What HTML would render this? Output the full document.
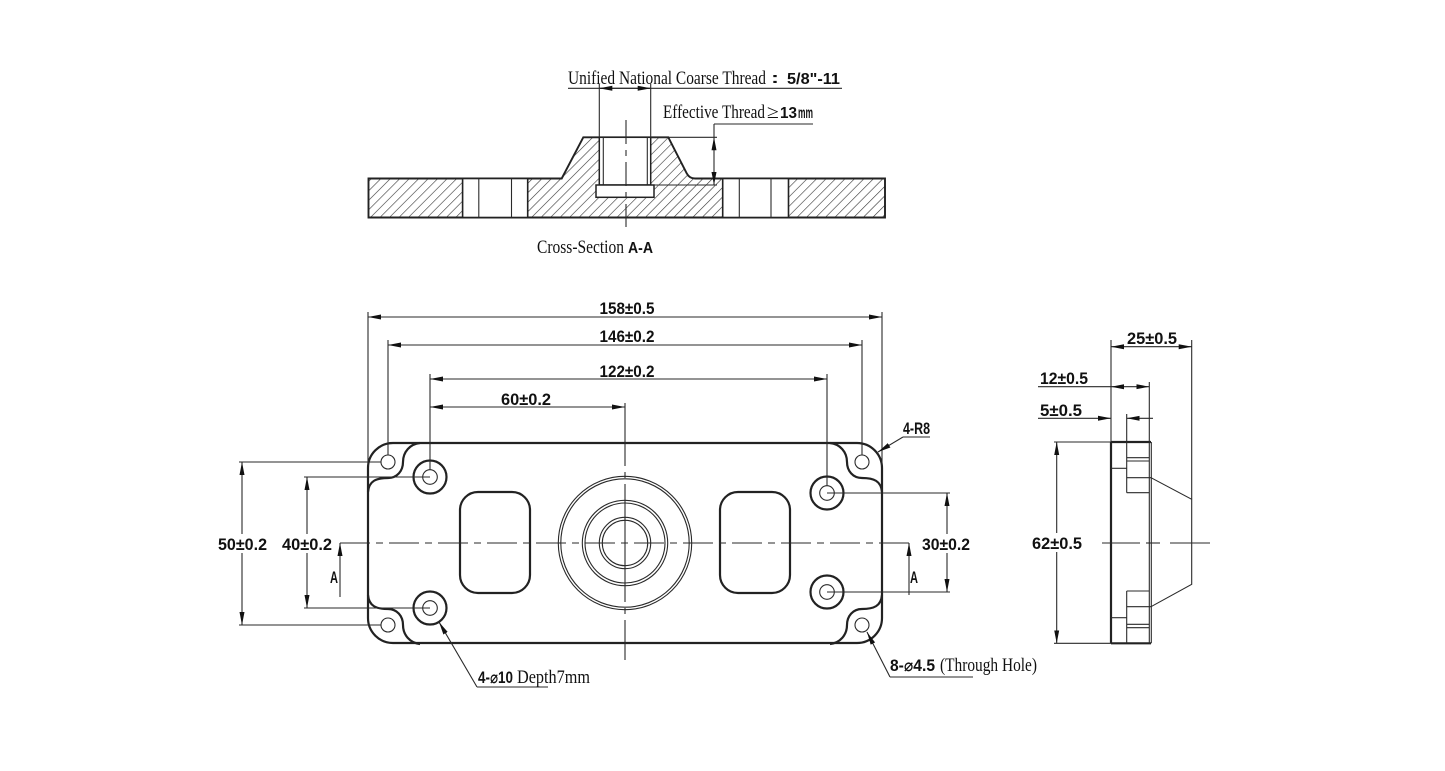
<!DOCTYPE html>
<html><head><meta charset="utf-8"><style>
html,body{margin:0;padding:0;background:#fff;}
svg{display:block;}
.t{stroke:#2a2a2a;stroke-width:1.1;fill:none;}
.o{stroke:#222;stroke-width:2.2;fill:none;}
.d{font-family:"Liberation Sans","DejaVu Sans",sans-serif;font-weight:bold;font-size:17px;fill:#111;}
.s{font-family:"Liberation Serif","DejaVu Serif",serif;font-size:19px;fill:#111;}
.sb{font-family:"Liberation Sans","DejaVu Sans",sans-serif;font-weight:bold;font-size:16px;fill:#111;}
</style></head><body>
<svg width="1445" height="771" viewBox="0 0 1445 771" xmlns="http://www.w3.org/2000/svg">
<defs>
<marker id="ar" viewBox="0 0 13 6" refX="13" refY="3" markerWidth="13" markerHeight="6" markerUnits="userSpaceOnUse" orient="auto-start-reverse"><path d="M0,0.5 L13,3 L0,5.5 z" fill="#111"/></marker>
<pattern id="h" width="6.7" height="6.7" patternUnits="userSpaceOnUse" patternTransform="rotate(45)"><line x1="0" y1="0" x2="0" y2="6.7" stroke="#333" stroke-width="1.2"/></pattern>
<g id="cr">
<path d="M420,443 C410,444 403,452 403,462 C403,471 397,478 388,478 C376,478 369,481 368,492" class="o" stroke-width="2"/>
<circle cx="388" cy="462" r="7" class="t" stroke-width="1.4"/>
</g>
</defs>
<rect width="1445" height="771" fill="#fff"/>

<!-- ===== Cross-section A-A ===== -->
<path d="M368.5,178.5 L561.7,178.5 L583.3,137.3 L668.3,137.3 L686.7,173.3 Q689.5,178.5 695,178.5 L885,178.5 L885,217.5 L368.5,217.5 Z" fill="url(#h)" stroke="#222" stroke-width="1.9"/>
<rect x="462.6" y="178.5" width="65.1" height="39" fill="#fff" stroke="#222" stroke-width="1.6"/>
<line x1="478.8" y1="178.5" x2="478.8" y2="217.5" class="t"/>
<line x1="511.5" y1="178.5" x2="511.5" y2="217.5" class="t"/>
<rect x="722.7" y="178.5" width="65.8" height="39" fill="#fff" stroke="#222" stroke-width="1.6"/>
<line x1="739.3" y1="178.5" x2="739.3" y2="217.5" class="t"/>
<line x1="771" y1="178.5" x2="771" y2="217.5" class="t"/>
<rect x="599.3" y="137.3" width="51.4" height="47.7" fill="#fff" stroke="#222" stroke-width="1.5"/>
<line x1="603.3" y1="137.3" x2="603.3" y2="185" class="t"/>
<line x1="647.3" y1="137.3" x2="647.3" y2="185" class="t"/>
<rect x="596" y="185" width="58" height="12.3" fill="#fff" stroke="#222" stroke-width="1.5"/>
<line x1="626" y1="120" x2="626" y2="227" class="t" stroke-dasharray="24 6 6 6"/>
<!-- thread dim -->
<line x1="599.3" y1="84" x2="599.3" y2="137.3" class="t"/>
<line x1="650.7" y1="84" x2="650.7" y2="137.3" class="t"/>
<line x1="568" y1="88.3" x2="842" y2="88.3" class="t"/>
<line x1="599.3" y1="88.3" x2="650.7" y2="88.3" class="t" marker-start="url(#ar)" marker-end="url(#ar)"/>
<text x="568" y="84" class="s" textLength="198" lengthAdjust="spacingAndGlyphs">Unified National Coarse Thread</text>
<text x="771" y="83" class="sb" font-size="14" textLength="8" lengthAdjust="spacingAndGlyphs">:</text>
<text x="787" y="84" class="sb" textLength="53" lengthAdjust="spacingAndGlyphs">5/8"-11</text>
<!-- effective thread -->
<line x1="714" y1="124" x2="813" y2="124" class="t"/>
<line x1="714" y1="124" x2="714" y2="137.3" class="t"/>
<line x1="714" y1="137.3" x2="714" y2="185" class="t" marker-start="url(#ar)" marker-end="url(#ar)"/>
<line x1="651" y1="137.3" x2="717" y2="137.3" class="t"/>
<line x1="654" y1="185" x2="717" y2="185" class="t"/>
<text x="663" y="118" class="s" textLength="102" lengthAdjust="spacingAndGlyphs">Effective Thread</text>
<text x="767" y="118" class="s" textLength="12" lengthAdjust="spacingAndGlyphs">≥</text>
<text x="780" y="118" class="sb" textLength="17" lengthAdjust="spacingAndGlyphs">13</text>
<text x="798" y="118" class="sb" font-size="9" textLength="15" lengthAdjust="spacingAndGlyphs">mm</text>
<text x="537" y="253" class="s" textLength="87" lengthAdjust="spacingAndGlyphs">Cross-Section</text>
<text x="628" y="253" class="sb" textLength="25" lengthAdjust="spacingAndGlyphs">A-A</text>

<!-- ===== Plan view ===== -->
<rect x="368" y="443" width="514" height="200" rx="25" class="o"/>
<use href="#cr"/>
<use href="#cr" transform="matrix(-1,0,0,1,1250,0)"/>
<use href="#cr" transform="matrix(1,0,0,-1,0,1087)"/>
<use href="#cr" transform="matrix(-1,0,0,-1,1250,1087)"/>
<!-- large holes -->
<circle cx="430" cy="477" r="16.5" class="o" stroke-width="2.6"/><circle cx="430" cy="477" r="7.3" class="t" stroke-width="1.3"/>
<circle cx="430" cy="608" r="16.5" class="o" stroke-width="2.6"/><circle cx="430" cy="608" r="7.3" class="t" stroke-width="1.3"/>
<circle cx="827" cy="493" r="16.5" class="o" stroke-width="2.6"/><circle cx="827" cy="493" r="7.3" class="t" stroke-width="1.3"/>
<circle cx="827" cy="592" r="16.5" class="o" stroke-width="2.6"/><circle cx="827" cy="592" r="7.3" class="t" stroke-width="1.3"/>
<!-- pockets -->
<rect x="460" y="492" width="70" height="101" rx="18" class="o" stroke-width="2"/>
<rect x="720" y="492" width="70" height="101" rx="18" class="o" stroke-width="2"/>
<!-- central boss -->
<circle cx="625" cy="543" r="66.7" class="t" stroke-width="1.3"/>
<circle cx="625" cy="543" r="64.2" class="t" stroke-width="1.1"/>
<circle cx="625" cy="543" r="42.7" class="t" stroke-width="1.5"/>
<circle cx="625" cy="543" r="40" class="t" stroke-width="1.2"/>
<circle cx="625" cy="543" r="25.7" class="t" stroke-width="1.6"/>
<circle cx="625" cy="543" r="22.7" class="t" stroke-width="1.2"/>
<!-- centerlines -->
<line x1="340" y1="543" x2="909" y2="543" class="t" stroke-dasharray="30 6 7 6"/>
<line x1="625" y1="403" x2="625" y2="466" class="t"/>
<line x1="625" y1="472" x2="625" y2="478" class="t"/>
<line x1="625" y1="484" x2="625" y2="602" class="t"/>
<line x1="625" y1="608" x2="625" y2="614" class="t"/>
<line x1="625" y1="620" x2="625" y2="660" class="t"/>

<!-- top dims -->
<line x1="368" y1="312" x2="368" y2="466" class="t"/>
<line x1="388" y1="340" x2="388" y2="455" class="t"/>
<line x1="430" y1="374" x2="430" y2="470" class="t"/>
<line x1="827" y1="374" x2="827" y2="486" class="t"/>
<line x1="862" y1="340" x2="862" y2="455" class="t"/>
<line x1="882" y1="312" x2="882" y2="466" class="t"/>
<line x1="368" y1="317" x2="882" y2="317" class="t" marker-start="url(#ar)" marker-end="url(#ar)"/>
<line x1="388" y1="345" x2="862" y2="345" class="t" marker-start="url(#ar)" marker-end="url(#ar)"/>
<line x1="430" y1="379" x2="827" y2="379" class="t" marker-start="url(#ar)" marker-end="url(#ar)"/>
<line x1="430" y1="407" x2="625" y2="407" class="t" marker-start="url(#ar)" marker-end="url(#ar)"/>
<text x="599.5" y="314" class="d" textLength="55" lengthAdjust="spacingAndGlyphs">158±0.5</text>
<text x="599.5" y="342" class="d" textLength="55" lengthAdjust="spacingAndGlyphs">146±0.2</text>
<text x="599.5" y="377" class="d" textLength="55" lengthAdjust="spacingAndGlyphs">122±0.2</text>
<text x="501" y="405" class="d" textLength="50" lengthAdjust="spacingAndGlyphs">60±0.2</text>

<!-- left dims -->
<line x1="239" y1="462" x2="381" y2="462" class="t"/>
<line x1="239" y1="625" x2="381" y2="625" class="t"/>
<line x1="242" y1="462" x2="242" y2="625" class="t" marker-start="url(#ar)" marker-end="url(#ar)"/>
<line x1="304" y1="477" x2="430" y2="477" class="t"/>
<line x1="304" y1="608" x2="430" y2="608" class="t"/>
<line x1="307" y1="477" x2="307" y2="608" class="t" marker-start="url(#ar)" marker-end="url(#ar)"/>
<rect x="216" y="534" width="53" height="19" fill="#fff"/>
<text x="218" y="550" class="d" textLength="49" lengthAdjust="spacingAndGlyphs">50±0.2</text>
<rect x="280" y="534" width="54" height="19" fill="#fff"/>
<text x="282" y="550" class="d" textLength="50" lengthAdjust="spacingAndGlyphs">40±0.2</text>
<line x1="340" y1="597" x2="340" y2="543" class="t" marker-end="url(#ar)"/>
<text x="330" y="583" class="d" font-size="15" textLength="8" lengthAdjust="spacingAndGlyphs">A</text>

<!-- right dims -->
<line x1="827" y1="493" x2="950" y2="493" class="t"/>
<line x1="827" y1="592" x2="950" y2="592" class="t"/>
<line x1="947" y1="493" x2="947" y2="592" class="t" marker-start="url(#ar)" marker-end="url(#ar)"/>
<rect x="920" y="534" width="52" height="19" fill="#fff"/>
<text x="922" y="550" class="d" textLength="48" lengthAdjust="spacingAndGlyphs">30±0.2</text>
<line x1="909" y1="595" x2="909" y2="543" class="t" marker-end="url(#ar)"/>
<text x="910" y="583" class="d" font-size="15" textLength="8" lengthAdjust="spacingAndGlyphs">A</text>

<!-- leaders -->
<line x1="903" y1="437" x2="930" y2="437" class="t"/>
<line x1="903" y1="437" x2="878" y2="452" class="t" marker-end="url(#ar)"/>
<text x="903" y="434" class="d" font-size="15" textLength="27" lengthAdjust="spacingAndGlyphs">4-R8</text>

<line x1="890" y1="677" x2="973" y2="677" class="t"/>
<line x1="890" y1="677" x2="867" y2="632" class="t" marker-end="url(#ar)"/>
<text x="890" y="671" class="d" textLength="45" lengthAdjust="spacingAndGlyphs">8-⌀4.5</text>
<text x="940" y="671" class="s" textLength="97" lengthAdjust="spacingAndGlyphs">(Through Hole)</text>

<line x1="477" y1="687" x2="548" y2="687" class="t"/>
<line x1="477" y1="687" x2="439" y2="622" class="t" marker-end="url(#ar)"/>
<text x="478" y="683" class="d" textLength="35" lengthAdjust="spacingAndGlyphs">4-⌀10</text>
<text x="517" y="683" class="s" textLength="73" lengthAdjust="spacingAndGlyphs">Depth7mm</text>

<!-- ===== Side view ===== -->
<line x1="1111" y1="442" x2="1111" y2="643.3" class="o" stroke-width="1.6"/>
<line x1="1111" y1="442" x2="1151" y2="442" class="o" stroke-width="1.6"/>
<line x1="1111" y1="643.3" x2="1151" y2="643.3" class="o" stroke-width="1.6"/>
<line x1="1149.3" y1="442" x2="1149.3" y2="643.3" class="t"/>
<line x1="1151.3" y1="442" x2="1151.3" y2="643.3" class="t" stroke-width="1.4"/>
<line x1="1126.7" y1="442" x2="1126.7" y2="492.7" class="t" stroke-width="1.4"/>
<line x1="1126.7" y1="591" x2="1126.7" y2="643.3" class="t" stroke-width="1.4"/>
<line x1="1111" y1="468.3" x2="1126.7" y2="468.3" class="t"/>
<line x1="1111" y1="617.7" x2="1126.7" y2="617.7" class="t"/>
<line x1="1126.7" y1="492.7" x2="1149.3" y2="492.7" class="t"/>
<line x1="1126.7" y1="591" x2="1149.3" y2="591" class="t"/>
<line x1="1126.7" y1="457.7" x2="1149.3" y2="457.7" class="t"/>
<line x1="1126.7" y1="461" x2="1149.3" y2="461" class="t"/>
<line x1="1126.7" y1="624.3" x2="1149.3" y2="624.3" class="t"/>
<line x1="1126.7" y1="627.7" x2="1149.3" y2="627.7" class="t"/>
<line x1="1126.7" y1="477.7" x2="1151" y2="477.7" class="t"/>
<line x1="1126.7" y1="606.7" x2="1151" y2="606.7" class="t"/>
<polyline points="1151,477.7 1191.7,499.3 1191.7,584.3 1151,606.7" class="t" stroke-width="1.4"/>
<line x1="1102" y1="543" x2="1140" y2="543" class="t"/>
<line x1="1146" y1="543" x2="1160" y2="543" class="t"/>
<line x1="1170" y1="543" x2="1210" y2="543" class="t"/>
<!-- side dims -->
<line x1="1111" y1="340" x2="1111" y2="442" class="t"/>
<line x1="1191.7" y1="340" x2="1191.7" y2="499.3" class="t"/>
<line x1="1149.3" y1="382" x2="1149.3" y2="442" class="t"/>
<line x1="1126.7" y1="414" x2="1126.7" y2="442" class="t"/>
<line x1="1111" y1="346.7" x2="1191.7" y2="346.7" class="t" marker-start="url(#ar)" marker-end="url(#ar)"/>
<text x="1127" y="344" class="d" textLength="50" lengthAdjust="spacingAndGlyphs">25±0.5</text>
<line x1="1038" y1="386.7" x2="1111" y2="386.7" class="t"/>
<line x1="1111" y1="386.7" x2="1149.3" y2="386.7" class="t" marker-start="url(#ar)" marker-end="url(#ar)"/>
<text x="1040" y="384" class="d" textLength="48" lengthAdjust="spacingAndGlyphs">12±0.5</text>
<line x1="1038" y1="418.3" x2="1111" y2="418.3" class="t" marker-end="url(#ar)"/>
<line x1="1153" y1="418.3" x2="1126.7" y2="418.3" class="t" marker-end="url(#ar)"/>
<text x="1040" y="416" class="d" textLength="42" lengthAdjust="spacingAndGlyphs">5±0.5</text>
<line x1="1054" y1="442" x2="1111" y2="442" class="t"/>
<line x1="1054" y1="643.3" x2="1111" y2="643.3" class="t"/>
<line x1="1056.7" y1="442" x2="1056.7" y2="643.3" class="t" marker-start="url(#ar)" marker-end="url(#ar)"/>
<rect x="1030" y="533" width="54" height="19" fill="#fff"/>
<text x="1032" y="549" class="d" textLength="50" lengthAdjust="spacingAndGlyphs">62±0.5</text>
</svg>
</body></html>
